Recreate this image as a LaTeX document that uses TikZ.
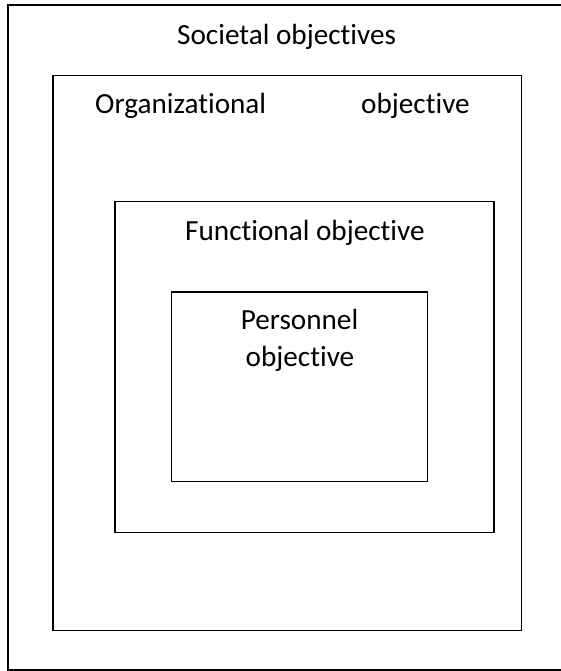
\documentclass[tikz,border=0pt]{standalone}
\usepackage{fontspec}
\setmainfont{Carlito}[Ligatures={NoCommon}]
\begin{document}
\begin{tikzpicture}[x=1pt,y=-1pt,
  frame/.style={draw=black,line width=1.4pt},
  lbl/.style={inner sep=0pt,anchor=base west,font=\fontsize{29.2}{34}\selectfont}]
\useasboundingbox (0,0) rectangle (561,671);
\draw[frame] (8,5) rectangle (563,670);
\draw[frame] (53,75.5) rectangle (521.5,630.5);
\draw[frame] (115,201.5) rectangle (494,532.5);
\draw[frame] (171.5,292) rectangle (427.5,481.5);
\node[lbl] (soc) at (177,45) {Societal objectives};
\node[lbl] (org) at (95,114) {Organizational};
\node[lbl] (orgb) at (361,114) {objective};
\node[lbl] (fun) at (185,240) {Functional objective};
\node[lbl,anchor=base] (per) at (299.5,329.5) {Personnel};
\node[lbl,anchor=base] (perb) at (300,366) {objective};
\end{tikzpicture}
\end{document}
